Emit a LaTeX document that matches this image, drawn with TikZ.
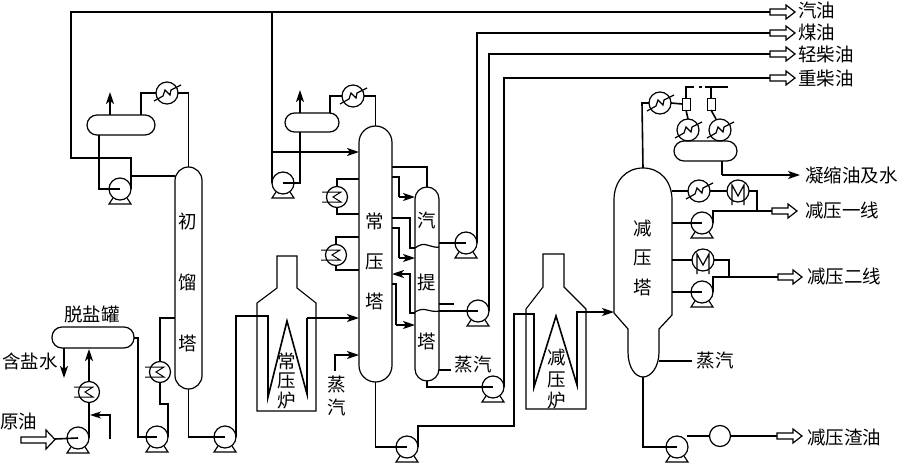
\documentclass[tikz,border=0pt]{standalone}
\usepackage{fontspec}
\setmainfont{Noto Sans CJK SC}
\usetikzlibrary{arrows.meta}
\tikzset{
  pipe/.style={line width=1.6pt,line join=miter},
  flow/.style={pipe,-{Stealth[length=12pt,width=8pt,inset=3pt]}},
  tower/.style={draw,line width=1.2pt,rectangle,inner sep=0pt,outer sep=0pt},
  eq/.style={draw,line width=1.2pt,circle,inner sep=0pt,outer sep=0pt,minimum size=#1},
  eq/.default=22pt,
  lab/.style={inner sep=0pt,font=\fontsize{18.5}{20}\selectfont},
  llab/.style={lab,anchor=west},
  part/.style={line width=1.2pt},
}
\newcommand{\pumpunit}[3]{\node[eq=22pt] (#1) at (#2,#3) {};
  \draw[part] (#2-7,#3+9) -- (#2-11,#3+15) -- (#2+11,#3+15) -- (#2+7,#3+9);}
\newcommand{\aircool}[3]{\node[eq=22pt] (#1) at (#2,#3) {};
  \draw[part] (#2-13,#3+8) -- (#2-4,#3+3) -- (#2-2,#3-3) -- (#2+3,#3+2) -- (#2+4,#3-3) -- (#2+14,#3-8);}
\newcommand{\watercool}[3]{\node[eq=21pt] (#1) at (#2,#3) {};
  \draw[line width=1pt] (#2-15,#3-5) -- (#2+4,#3-5) -- (#2-4,#3) -- (#2+4,#3+5) -- (#2-15,#3+5);}
\newcommand{\mcool}[3]{\node[eq=22pt] (#1) at (#2,#3) {};
  \draw[part] (#2-6,#3+14) -- (#2-6,#3-6) -- (#2,#3+5) -- (#2+6,#3-6) -- (#2+6,#3+14);}
\newcommand{\prodarrow}[4]{\coordinate (#1) at (#2,#4);
  \draw[part,fill=white] (#2,#4-3) -- (#3-9,#4-3) -- (#3-9,#4-7) -- (#3,#4) -- (#3-9,#4+7) -- (#3-9,#4+3) -- (#2,#4+3) -- cycle;}
\begin{document}
\begin{tikzpicture}[x=1pt,y=-1pt]
\useasboundingbox (0,0) rectangle (900,463);

% ---------- vessels
\node[tower,rounded corners=13.5pt,minimum width=27pt,minimum height=222pt] (t1) at (188.5,278) {};
\node[tower,rounded corners=16.5pt,minimum width=33pt,minimum height=256pt] (t2) at (375.5,254) {};
\node[tower,rounded corners=12pt,minimum width=24pt,minimum height=194pt] (st) at (427,284) {};
\node[tower,rounded corners=10pt,minimum width=82pt,minimum height=21pt] (desalt) at (93,337.5) {};
\node[tower,rounded corners=10pt,minimum width=68pt,minimum height=20pt] (d1) at (121,125) {};
\node[tower,rounded corners=9.5pt,minimum width=54pt,minimum height=19pt] (d2) at (312,122.5) {};
\node[tower,rounded corners=10pt,minimum width=63pt,minimum height=20pt] (d3) at (705.5,151) {};
% stripper partitions
\draw[part] (st.west |- 0,248) .. controls (420,244) and (424,244) .. (427,245) .. controls (431,246) and (436,248) .. (st.east |- 0,247);
\draw[part] (st.west |- 0,312) .. controls (420,309) and (424,309) .. (427,310) .. controls (431,311) and (436,312) .. (st.east |- 0,311);
% vacuum tower
\coordinate (vt) at (643,168);
\coordinate (vb) at (643,377);
\draw[line width=1.2pt] (vt) .. controls (626,168) and (614,181) .. (614,200) -- (614,313) -- (628,329) -- (628,352)
  .. controls (628,367) and (635,377) .. (vb) .. controls (651,377) and (659,367) .. (659,352) -- (659,329) -- (672,315) -- (672,200)
  .. controls (672,181) and (660,168) .. (vt) -- cycle;
% furnaces
\draw[line width=1.1pt] (257,411) -- (257,303) -- (277,288) -- (277,256) -- (297,256) -- (297,288) -- (316,303) -- (316,411) -- cycle;
\draw[line width=1.1pt] (526,409) -- (526,309) -- (543,287) -- (543,254) -- (564,254) -- (564,287) -- (586,309) -- (586,409) -- cycle;

% ---------- rotating equipment and exchangers
\pumpunit{p1}{78}{438}
\pumpunit{p2}{157}{437}
\pumpunit{p3}{225}{437}
\pumpunit{p4}{120}{189}
\pumpunit{p5}{283}{183}
\pumpunit{p6}{466}{243}
\pumpunit{p7}{478}{311}
\pumpunit{p8}{493}{387}
\pumpunit{p9}{407}{447}
\pumpunit{p10}{702}{223}
\pumpunit{p11}{702}{292}
\pumpunit{p12}{677}{447}
\node[eq=21pt] (rho) at (720,436) {};
\watercool{w1}{89}{392}
\watercool{w2}{160}{372}
\watercool{w3}{337}{197}
\watercool{w4}{336}{255}
\aircool{a1}{167}{93}
\aircool{a2}{353}{96}
\aircool{a3}{660}{103}
\aircool{a4}{688}{130}
\aircool{a5}{720}{130}
\aircool{a6}{699}{191}
\mcool{m1}{738}{191}
\mcool{m2}{703}{260}
% ejectors
\node[draw,line width=1pt,outer sep=0pt,minimum width=8pt,minimum height=12pt,inner sep=0pt] (e1) at (686,104) {};
\node[draw,line width=1pt,outer sep=0pt,minimum width=8pt,minimum height=12pt,inner sep=0pt] (e2) at (711,104) {};
\coordinate (c1in) at (268,316);
\coordinate (c1out) at (307,318);
\coordinate (c2in) at (534,314);
\coordinate (c2out) at (577,312);

% ---------- product arrows
\prodarrow{o1}{770}{795}{12}
\prodarrow{o2}{770}{795}{33}
\prodarrow{o3}{770}{795}{54}
\prodarrow{o4}{770}{795}{78}
\prodarrow{o5}{772}{797}{211}
\prodarrow{o6}{778}{802}{277}
\prodarrow{o7}{777}{802}{436}
\draw[part,fill=white] (21,437) -- (46,437) -- (46,430) -- (55,439.5) -- (46,449) -- (46,443) -- (21,443) -- cycle;
\coordinate (feed) at (55,439);

% ---------- desalter section
\draw[pipe] (feed) -- (p1.center);
\draw[pipe] (p1.east) -- (w1.south);
\draw[flow] (w1.north) -- (89,349);
\draw[flow] (64,348) -- (64,378);
\draw[pipe,-{Stealth[length=11pt,width=7pt,inset=3pt]}] (110,439) -- (110,415) -- (90,415);
\draw[pipe] (desalt.east |- 0,338) -- (138,338) -- (138,437) -- (p2.center);
\draw[pipe] (p2.east) -- (168,404) -- (160,404) -- (w2.south);
\draw[pipe] (w2.north) -- (160,318) -- (t1.west |- 0,318);
\draw[pipe] (t1.south) -- (188.5,437) -- (p3.center);
\draw[pipe] (p3.east) -- (236,316) -- (c1in) -- (268,397) -- (287,321) -- (307,394) -- (c1out);
\draw[flow] (c1out) -- (t2.west |- 0,318);

% ---------- initial tower overhead
\draw[pipe] (t1.north) -- (188.5,93) -- (a1.east);
\draw[pipe] (a1.west) -- (141,93) -- (141,115);
\draw[flow] (110,115) -- (110,92);
\draw[pipe] (99,135) -- (99,189) -- (p4.center);
\draw[pipe] (o1) -- (71,12) -- (71,158) -- (131,158) -- (p4.east);
\draw[pipe] (131,176) -- (t1.west |- 0,176);

% ---------- atmospheric tower overhead
\draw[pipe] (272,12) -- (p5.west);
\draw[flow] (272,152) -- (t2.west |- 0,152);
\draw[pipe] (p5.center) -- (300,183) -- (300,132);
\draw[flow] (300,113) -- (300,90);
\draw[pipe] (330,113) -- (330,96) -- (a2.west);
\draw[pipe] (a2.east) -- (375.5,96) -- (t2.north);

% side coolers
\draw[pipe] (w3.north) -- (337,179) -- (t2.west |- 0,179);
\draw[pipe] (w3.south) -- (337,214) -- (t2.west |- 0,214);
\draw[pipe] (w4.north) -- (336,237) -- (t2.west |- 0,237);
\draw[pipe] (w4.south) -- (336,270) -- (t2.west |- 0,270);

% stripper connections
\draw[pipe] (t2.east |- 0,167) -- (427,167) -- (st.north);
\draw[pipe] (t2.east |- 0,177) -- (399,177) -- (399,197);
\draw[flow] (399,197) -- (st.west |- 0,197);
\draw[pipe] (t2.east |- 0,218) -- (410,218) -- (410,248) -- (st.west |- 0,248);
\draw[pipe] (t2.east |- 0,228) -- (399,228) -- (399,258);
\draw[flow] (399,258) -- (st.west |- 0,258);
\draw[flow] (st.west |- 0,313) -- (410,313) -- (410,274) -- (t2.east |- 0,274);
\draw[pipe] (t2.east |- 0,284) -- (396,284) -- (396,325);
\draw[flow] (396,325) -- (st.west |- 0,325);
\draw[pipe] (st.east |- 0,243) -- (p6.center);
\draw[pipe] (p6.east) -- (477,33) -- (o2);
\draw[pipe] (st.east |- 0,304) -- (454,304);
\draw[pipe] (st.east |- 0,311) -- (p7.center);
\draw[pipe] (p7.east) -- (489,54) -- (o3);
\draw[part] (st.east |- 0,370) -- (451,370);
\draw[pipe] (st.south) -- (427,387) -- (p8.center);
\draw[pipe] (p8.east) -- (504,78) -- (o4);

% steam to atmospheric tower
\draw[flow] (335,371) -- (335,355) -- (t2.west |- 0,355);

% transfer to vacuum
\draw[pipe] (t2.south) -- (375.5,447) -- (p9.center);
\draw[pipe] (p9.east) -- (418,426) -- (514,426) -- (514,314) -- (c2in) -- (534,387) -- (556,316) -- (577,385) -- (c2out) -- (590,312);
\draw[flow] (590,312) -- (614,312);

% ---------- vacuum tower
\draw[pipe] (vt) -- (642,103) -- (a3.west);
\draw[pipe] (a3.east) -- (e1.west);
\draw[part] (e1.north) -- (686,87);
\draw[pipe] (685,87) -- (694,87);
\draw[pipe] (699,87) -- (702,87);
\draw[pipe] (705,87) -- (728,87);
\draw[part] (e2.north) -- (711,87);
\draw[pipe] (e1.south) -- (688,119);
\draw[pipe] (e2.south) -- (716,119);
\draw[pipe] (722,161) -- (722,175);
\draw[flow] (722,175) -- (800,175);
\draw[pipe] (672,191) -- (a6.west);
\draw[pipe] (a6.east) -- (m1.west);
\draw[pipe] (m1.east) -- (757,191) -- (757,211);
\draw[pipe] (672,223) -- (p10.center);
\draw[pipe] (p10.east) -- (713,211) -- (o5);
\draw[pipe] (672,260) -- (m2.west);
\draw[pipe] (m2.east) -- (729,260) -- (729,277);
\draw[pipe] (672,292) -- (p11.center);
\draw[pipe] (p11.east) -- (713,277) -- (o6);
\draw[part] (659,361) -- (692,361);
\draw[pipe] (vb) -- (643,447) -- (p12.center);
\draw[pipe] (687,436) -- (rho.west);
\draw[pipe] (rho.east) -- (o7);

% ---------- labels
\node[lab] (l1) at (92,314) {脱盐罐};
\node[lab,anchor=west] (l2) at (2,361) {含盐水};
\node[lab,anchor=west] (l3) at (0,421) {原油};
\node[lab] at (188,221) {初};
\node[lab] at (188,282) {馏};
\node[lab] at (188,343) {塔};
\node[lab] at (375,221) {常};
\node[lab] at (375,262) {压};
\node[lab] at (375,301) {塔};
\node[lab] at (427,220) {汽};
\node[lab] at (427,282) {提};
\node[lab] at (427,341) {塔};
\node[lab] at (287,361) {常};
\node[lab] at (287,381) {压};
\node[lab] at (287,401) {炉};
\node[lab] at (557,358) {减};
\node[lab] at (557,380) {压};
\node[lab] at (557,401) {炉};
\node[lab] at (337,385) {蒸};
\node[lab] at (337,407) {汽};
\node[lab] at (473,365) {蒸汽};
\node[lab] at (643,229) {减};
\node[lab] at (643,258) {压};
\node[lab] at (643,287) {塔};
\node[lab] at (715,361) {蒸汽};
\node[llab] at (798,10) {汽油};
\node[llab] at (798,32) {煤油};
\node[llab] at (798,54) {轻柴油};
\node[llab] at (798,78) {重柴油};
\node[llab] at (805,175) {凝缩油及水};
\node[llab] at (805,210) {减压一线};
\node[llab] at (807,276) {减压二线};
\node[llab] at (807,437) {减压渣油};
\end{tikzpicture}
\end{document}
